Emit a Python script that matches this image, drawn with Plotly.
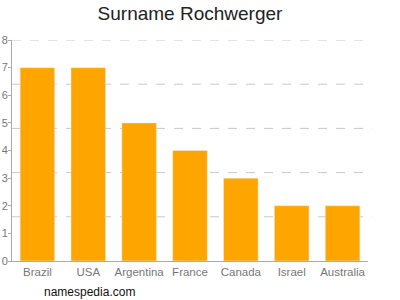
import plotly.graph_objects as go

countries = ["Brazil", "USA", "Argentina", "France", "Canada", "Israel", "Australia"]
counts = [7, 7, 5, 4, 3, 2, 2]
y_ticks = [0, 1, 2, 3, 4, 5, 6, 7, 8]
grid_values = [1.6, 3.2, 4.8, 6.4, 8]

fig = go.Figure(go.Bar(x=countries, y=counts, marker_color="#FFA500", width=0.68))

shapes = [dict(type="line", xref="paper", yref="y", x0=0, x1=1.012, y0=g, y1=g,
               line=dict(color="#c8c8c8", width=1, dash="dash"), layer="below")
          for g in grid_values]

fig.update_layout(
    width=400, height=300,
    margin=dict(l=12, r=32, t=40, b=39),
    paper_bgcolor="white", plot_bgcolor="white",
    title=dict(text="Surname Rochwerger", x=0.475, xref="container", y=0.955, yanchor="middle",
               font=dict(family="Liberation Sans, Arial", size=19, color="#222")),
    showlegend=False,
    shapes=shapes,
    bargap=0.32,
    annotations=[dict(text="namespedia.com", xref="paper", yref="paper", x=0.085, y=-0.14,
                      xanchor="left", yanchor="middle", showarrow=False,
                      font=dict(family="Liberation Sans, Arial", size=12, color="#111"))],
)
fig.update_yaxes(range=[0, 8], tickvals=y_ticks, showgrid=False, zeroline=False, automargin=False,
                 showline=True, linecolor="#aaa", linewidth=1, ticks="outside", ticklen=3,
                 tickcolor="#aaa", tickfont=dict(family="Liberation Sans, Arial", size=11, color="#777"),
                 ticklabelstandoff=-2)
fig.update_xaxes(showline=True, linecolor="#aaa", linewidth=1, ticks="", showgrid=False, automargin=False,
                 tickfont=dict(family="Liberation Sans, Arial", size=11.5, color="#777"))

fig.write_html("out.html")
